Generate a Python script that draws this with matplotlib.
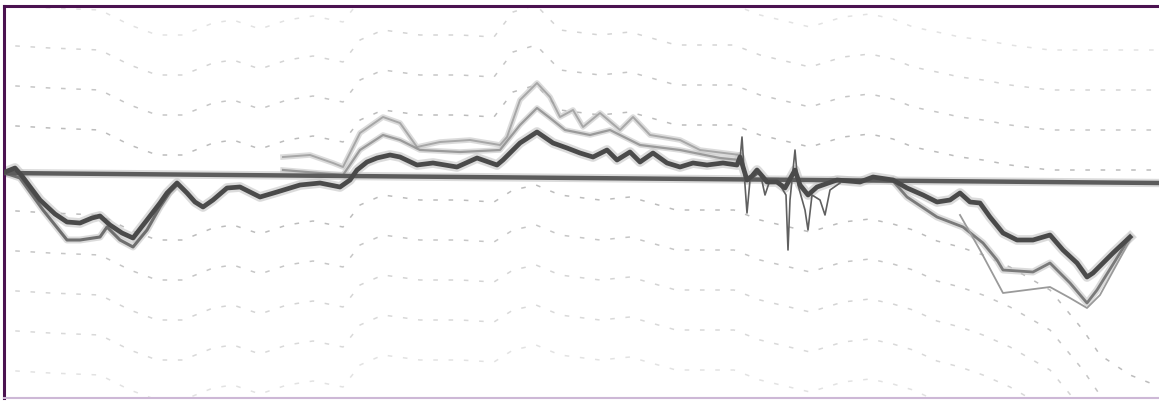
import matplotlib
matplotlib.use("Agg")
import matplotlib.pyplot as plt
import numpy as np

# main trace (x, y in picture units, y grows downward)
main_x = [5, 15, 22, 40, 55, 67, 80, 92, 100, 110, 122, 133, 147, 160, 167, 177, 187, 195,
          203, 213, 227, 240, 250, 260, 277, 300, 320, 340, 350, 357, 367, 377, 390, 400,
          417, 433, 457, 477, 497, 503, 520, 537, 553, 567, 580, 593, 607, 617, 630, 640,
          653, 667, 680, 693, 707, 723, 737, 740, 747, 752, 757, 763, 767, 777, 785, 795,
          800, 808, 817, 837, 860, 873, 893, 907, 923, 937, 950, 960, 970, 980, 990, 1003,
          1017, 1033, 1050, 1063, 1077, 1087, 1093, 1113, 1130]
main_y = [172, 168, 176, 200, 214, 222, 223, 218, 216, 225, 233, 238, 220, 203, 193, 183, 193, 202,
          207, 200, 188, 187, 192, 197, 192, 185, 183, 187, 180, 170, 162, 158, 155, 157,
          165, 163, 167, 158, 165, 160, 143, 132, 143, 148, 153, 157, 150, 160, 152, 162,
          153, 163, 167, 163, 165, 163, 165, 157, 180, 176, 170, 177, 182, 182, 188, 170,
          185, 195, 187, 180, 182, 177, 180, 188, 195, 202, 200, 193, 202, 203, 217, 233,
          240, 240, 235, 250, 263, 277, 273, 253, 237]

# reference level
level_x = [0, 1159]
level_y = [173, 183]

# noisy spikes around the middle-right
noise_x = [738, 740, 742, 745, 747, 750, 760, 765, 770, 780, 786, 788, 790, 795, 798, 805,
           808, 812, 820, 825, 830, 840]
noise_y = [165, 160, 137, 185, 213, 180, 172, 195, 180, 185, 195, 250, 200, 150, 185, 210,
           230, 195, 200, 215, 190, 183]

# companion traces
low_left_x = [5, 20, 43, 67, 80, 100, 107, 120, 133, 147, 160, 170, 177]
low_left_y = [173, 178, 210, 240, 240, 237, 227, 240, 247, 230, 207, 192, 185]
low_right_x = [893, 907, 937, 963, 983, 997, 1003, 1033, 1050, 1070, 1087, 1097, 1130]
low_right_y = [181, 197, 217, 227, 243, 260, 270, 272, 263, 283, 303, 290, 237]
low_right2_x = [960, 980, 1003, 1050, 1070, 1087, 1100, 1130]
low_right2_y = [215, 250, 293, 287, 298, 308, 295, 240]
up_a_x = [283, 310, 333, 343, 360, 383, 400, 417, 440, 470, 500, 507, 520, 537, 550, 560,
          573, 583, 600, 620, 633, 650, 680, 700, 740]
up_a_y = [157, 155, 163, 167, 133, 117, 123, 147, 142, 140, 145, 137, 100, 83, 97, 117,
          110, 127, 113, 130, 117, 135, 140, 150, 155]
up_b_x = [283, 343, 360, 383, 400, 420, 460, 500, 520, 537, 550, 565, 590, 610, 640, 680, 720, 740]
up_b_y = [170, 175, 150, 135, 140, 150, 152, 150, 125, 108, 118, 130, 135, 130, 145, 150, 158, 160]

# faint dashed background traces: shape and levels
shape_x = [0, 50, 100, 130, 157, 183, 213, 233, 260, 287, 313, 343, 360, 383, 420, 460, 494,
           513, 536, 560, 600, 630, 676, 734, 760, 810, 843, 870, 893, 913, 937, 960, 983,
           1010, 1050, 1083, 1100, 1130, 1155]
upper_shape = [-15, -12, -10, 5, 15, 15, 3, 0, 9, 0, -4, 2, -20, -30, -25, -25, -23, -48, -55,
               -30, -25, -28, -15, -15, -5, 7, -3, -6, -1, 7, 12, 17, 20, 25, 30, 30, 30, 30, 30]
lower_shape = [-15, -12, -10, 5, 15, 15, 3, 0, 9, 0, -4, 2, -20, -30, -25, -25, -23, -35, -40,
               -30, -25, -28, -15, -15, -5, 7, -3, -6, -1, 5, 16, 22, 30, 42, 65, 105, 130, 150, 160]
upper_levels = [20, 60, 100, 140]
lower_levels = [225, 265, 305, 345, 385]
upper_alpha = [0.3, 0.45, 0.6, 0.7]
lower_alpha = [0.7, 0.6, 0.45, 0.4, 0.3]

fig = plt.figure(figsize=(11.59, 4.01), dpi=100)
ax = fig.add_axes([4 / 1159, 3 / 401, 1 - 4 / 1159, (398 - 6) / 401])
ax.set_xlim(4, 1159)
ax.set_ylim(398, 6)

sx = np.array(shape_x)
for lev, a in zip(upper_levels, upper_alpha):
    ax.plot(sx, lev + np.array(upper_shape), color="#a0a0a0", lw=1.1, alpha=a,
            dashes=(3, 7), zorder=1)
for lev, a in zip(lower_levels, lower_alpha):
    ax.plot(sx, lev + np.array(lower_shape), color="#a0a0a0", lw=1.1, alpha=a,
            dashes=(3, 7), zorder=1)

# soft halo under the drawn traces
for xs, ys, w in [(up_a_x, up_a_y, 4), (up_b_x, up_b_y, 4), (low_left_x, low_left_y, 5),
                  (low_right_x, low_right_y, 5), (level_x, level_y, 6), (main_x, main_y, 7)]:
    ax.plot(xs, ys, color="#c4c4c4", lw=w, alpha=0.6, solid_joinstyle="round", zorder=1.5)

ax.plot(up_a_x, up_a_y, color="#9a9a9a", lw=1.4, alpha=0.8, zorder=2)
ax.plot(up_b_x, up_b_y, color="#8a8a8a", lw=1.6, alpha=0.8, zorder=2)
ax.plot(low_left_x, low_left_y, color="#6e6e6e", lw=2.2, zorder=2)
ax.plot(low_right_x, low_right_y, color="#7a7a7a", lw=2.0, zorder=2)
ax.plot(low_right2_x, low_right2_y, color="#9a9a9a", lw=1.3, zorder=2)
ax.plot(noise_x, noise_y, color="#606060", lw=1.2, zorder=3)

ax.plot(level_x, level_y, color="#5c5c5c", lw=3.2, zorder=3)
ax.plot(main_x, main_y, color="#4a4a4a", lw=3.4, solid_joinstyle="round", zorder=4)

ax.set_xticks([])
ax.set_yticks([])
ax.spines["top"].set_color("#4b1250")
ax.spines["top"].set_linewidth(2.2)
ax.spines["left"].set_color("#4b1250")
ax.spines["left"].set_linewidth(2.2)
ax.spines["bottom"].set_color("#cdb8d6")
ax.spines["bottom"].set_linewidth(1.5)
ax.spines["right"].set_visible(False)

fig.savefig("out.png", dpi=100)
